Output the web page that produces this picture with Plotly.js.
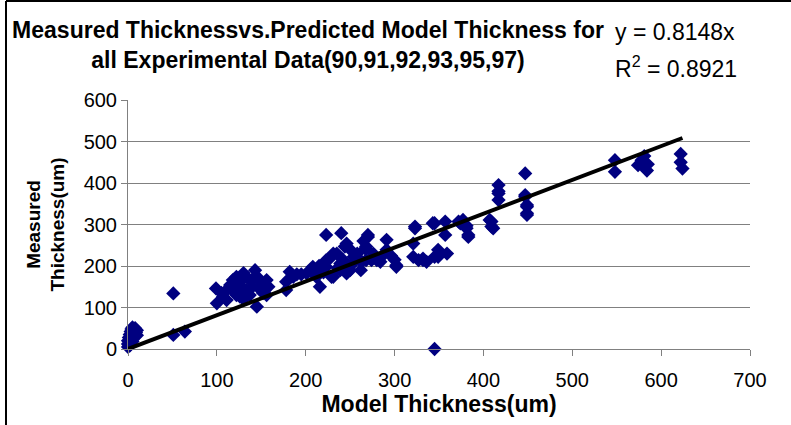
<!DOCTYPE html>
<html>
<head>
<meta charset="utf-8">
<script src="https://cdn.plot.ly/plotly-3.0.1.min.js"></script>
<style>html,body{margin:0;padding:0;background:#fff;}#chart{width:791px;height:425px;}</style>
</head>
<body>
<div id="chart"></div>
<script>
// Model thickness (um) — x values
const modelThickness = [
  0,0,0,1,2,3,4,5,6,7,8,9,10,5,2,8,10,
  51,51,64,
  99,100,107,111,115,118,122,122,126,130,130,133,139,143,145,140,145,150,152,156,156,158,110,105,125,135,118,128,137,148,
  178,178,182,186,195,201,205,208,212,216,223,223,223,229,231,231,235,239,239,240,244,246,246,250,253,254,261,263,267,268,268,270,270,274,280,280,284,291,291,190,215,228,236,258,262,276,288,296,300,302,302,220,242,250,265,
  321,321,323,323,327,332,336,332,343,345,345,349,349,351,357,357,359,345,
  372,374,377,381,381,383,383,
  407,409,409,411,
  417,417,417,417,
  447,447,447,449,449,449,449,
  548,548,574,578,581,581,584,585,
  622,622,624
];
// Measured thickness (um) — y values
const measuredThickness = [
  5,12,20,28,35,42,48,52,38,45,30,40,33,18,8,50,45,
  134,34,42,
  146,110,126,118,154,166,174,130,126,183,120,142,166,190,102,150,175,160,135,166,130,150,140,135,160,170,140,150,130,145,
  142,162,186,174,180,182,190,198,174,150,198,214,275,174,230,174,230,190,206,279,247,254,182,190,206,222,214,210,242,247,214,275,270,214,214,218,210,263,239,180,200,220,195,230,190,230,228,225,215,202,198,185,215,240,260,
  254,222,295,291,214,214,210,218,303,303,222,239,222,230,307,275,230,0,
  307,303,311,291,297,275,270,
  311,307,295,291,
  395,380,375,359,
  423,371,367,347,343,327,323,
  455,427,443,455,465,439,430,445,
  470,450,435
];
// Linear trendline through origin (from the chart's equation)
const trendSlope = 0.8148;
const trendR2 = 0.8921;
const xTicks = [0,100,200,300,400,500,600,700];
const yTicks = [0,100,200,300,400,500,600];

const xMin = Math.min(...modelThickness), xMax = Math.max(...modelThickness);
const trendX = [xMin, xMax];
const trendY = trendX.map(v => trendSlope * v);

const navy = '#000080';
const gridGray = '#808080';
const FONT = 'Liberation Sans, Arial, sans-serif';

const traces = [
  {
    x: modelThickness, y: measuredThickness, type: 'scatter', mode: 'markers',
    marker: {symbol: 'diamond', size: 11, color: navy, line: {width: 0}},
    cliponaxis: false, hoverinfo: 'x+y', showlegend: false
  },
  {
    x: trendX, y: trendY, type: 'scatter', mode: 'lines',
    line: {color: '#000000', width: 4}, cliponaxis: false, showlegend: false
  }
];

const layout = {
  width: 791, height: 425,
  paper_bgcolor: '#ffffff', plot_bgcolor: '#ffffff',
  margin: {l: 128, r: 41, t: 100, b: 76},
  font: {family: FONT, color: '#000000'},
  title: {
    text: 'Measured Thicknessvs.Predicted Model Thickness for<br>all Experimental Data(90,91,92,93,95,97)',
    font: {family: FONT, size: 23, color: '#000000', weight: 'bold'},
    x: 308/791, xanchor: 'center', xref: 'container',
    y: 1 - 38/425, yanchor: 'middle', yref: 'container'
  },
  xaxis: {
    range: [0, 700], tickvals: xTicks, ticktext: xTicks.map(String),
    showgrid: false, zeroline: false,
    showline: true, linecolor: gridGray, linewidth: 1,
    ticks: 'outside', ticklen: 6, tickcolor: gridGray,
    ticklabelstandoff: 7,
    tickfont: {family: FONT, size: 20, color: '#000000'},
    title: {text: 'Model Thickness(um)', font: {family: FONT, size: 23, color: '#000000', weight: 'bold'}, standoff: 3}
  },
  yaxis: {
    range: [0, 600], tickvals: yTicks, ticktext: yTicks.map(String),
    showgrid: true, gridcolor: gridGray, gridwidth: 1, zeroline: false,
    showline: true, linecolor: gridGray, linewidth: 1,
    ticks: 'outside', ticklen: 6, tickcolor: gridGray,
    tickfont: {family: FONT, size: 20, color: '#000000'},
    title: {text: 'Measured<br>Thickness(um)', font: {family: FONT, size: 19, color: '#000000', weight: 'bold'}, standoff: 13}
  },
  annotations: [
    {xref: 'paper', yref: 'paper', x: (613-128)/622, y: (349-32)/249, xanchor: 'left', yanchor: 'middle',
     text: 'y = ' + trendSlope.toFixed(4) + 'x', showarrow: false,
     font: {family: FONT, size: 23, color: '#000000'}},
    {xref: 'paper', yref: 'paper', x: (613-128)/622, y: (349-67)/249, xanchor: 'left', yanchor: 'middle',
     text: 'R<sup>2</sup> = ' + trendR2.toFixed(4), showarrow: false,
     font: {family: FONT, size: 23, color: '#000000'}}
  ],
  shapes: [
    {type: 'line', xref: 'paper', yref: 'paper', x0: (6-128)/622, x1: (6-128)/622, y0: (349-425)/249, y1: (349-1)/249,
     line: {color: '#000000', width: 2}},
    {type: 'line', xref: 'paper', yref: 'paper', x0: (6-128)/622, x1: (791-128)/622, y0: (349-1)/249, y1: (349-1)/249,
     line: {color: '#000000', width: 2}}
  ]
};

Plotly.newPlot('chart', traces, layout, {displayModeBar: false, staticPlot: true});
</script>
</body>
</html>
